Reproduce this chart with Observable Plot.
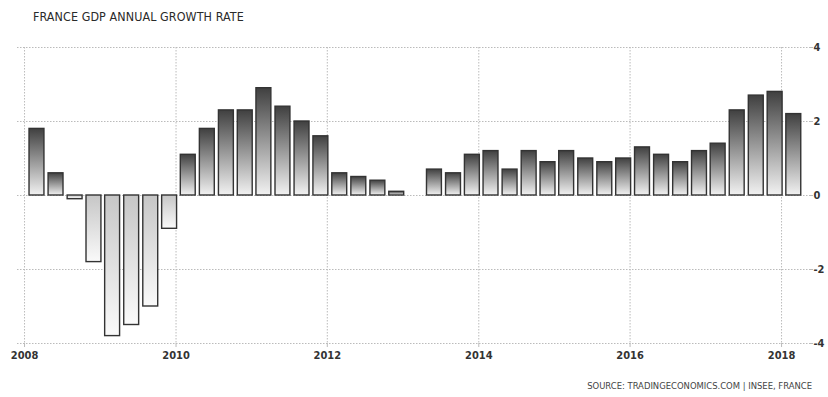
<!DOCTYPE html>
<html><head><meta charset="utf-8">
<script src="https://cdn.jsdelivr.net/npm/d3@7"></script>
<script src="https://cdn.jsdelivr.net/npm/@observablehq/plot@0.6"></script>
<style>
body{margin:0;background:#fff;width:828px;height:397px;overflow:hidden;position:relative;font-family:"DejaVu Sans Condensed","DejaVu Sans",sans-serif;}
#title{position:absolute;left:33px;top:9px;font-size:12.4px;color:#2a2a2a;letter-spacing:0.1px;}
#chart{position:absolute;left:0;top:30px;}
#source{position:absolute;right:16px;top:380px;font-size:9.4px;color:#444;}
</style></head><body>
<div id="title">FRANCE GDP ANNUAL GROWTH RATE</div>
<div id="chart"></div>
<div id="source">SOURCE: TRADINGECONOMICS.COM | INSEE, FRANCE</div>
<script>
const quarters = [
  "2008Q1","2008Q2","2008Q3","2008Q4",
  "2009Q1","2009Q2","2009Q3","2009Q4",
  "2010Q1","2010Q2","2010Q3","2010Q4",
  "2011Q1","2011Q2","2011Q3","2011Q4",
  "2012Q1","2012Q2","2012Q3","2012Q4",
  "2013Q1","2013Q2","2013Q3","2013Q4",
  "2014Q1","2014Q2","2014Q3","2014Q4",
  "2015Q1","2015Q2","2015Q3","2015Q4",
  "2016Q1","2016Q2","2016Q3","2016Q4",
  "2017Q1","2017Q2","2017Q3","2017Q4",
  "2018Q1"
];
const growth = [
  1.8, 0.6, -0.1, -1.8,
  -3.8, -3.5, -3.0, -0.9,
  1.1, 1.8, 2.3, 2.3,
  2.9, 2.4, 2.0, 1.6,
  0.6, 0.5, 0.4, 0.1,
  null, 0.7, 0.6, 1.1,
  1.2, 0.7, 1.2, 0.9,
  1.2, 1.0, 0.9, 1.0,
  1.3, 1.1, 0.9, 1.2,
  1.4, 2.3, 2.7, 2.8,
  2.2
];
const yTicks = [-4, -2, 0, 2, 4];
const xTickYears = [2008, 2010, 2012, 2014, 2016, 2018];

function qDate(q) {
  const y = +q.slice(0, 4), n = +q.slice(5);
  return new Date(Date.UTC(y, (n - 1) * 3 + 2, 1));
}
const data = quarters.map((q, i) => {
  const c = qDate(q);
  return {q, value: growth[i], x1: d3.utcDay.offset(c, -36), x2: d3.utcDay.offset(c, 36)};
}).filter(d => d.value != null);
const xTicks = xTickYears.map(y => new Date(Date.UTC(y, 0, 1)));

const chart = Plot.plot({
  width: 828,
  height: 343,
  marginLeft: 17,
  marginRight: 20,
  marginTop: 17,
  marginBottom: 30,
  style: {fontFamily: "'DejaVu Sans Condensed','DejaVu Sans',sans-serif", fontSize: "11px", color: "#333", background: "#fff"},
  x: {type: "utc", domain: [new Date(Date.UTC(2007, 10, 28)), new Date(Date.UTC(2018, 4, 11))], label: null},
  y: {domain: [-4, 4], label: null},
  marks: [
    Plot.gridY(yTicks, {stroke: "#bbb", strokeOpacity: 1, strokeDasharray: "1.5,1.5"}),
    Plot.gridX(xTicks, {stroke: "#bbb", strokeOpacity: 1, strokeDasharray: "1.5,1.5"}),
    Plot.rectY(data.filter(d => d.value >= 0), {x1: "x1", x2: "x2", y1: 0, y2: "value", fill: "url(#gradPos)", stroke: "#333", strokeWidth: 1.4}),
    Plot.rectY(data.filter(d => d.value < 0), {x1: "x1", x2: "x2", y1: 0, y2: "value", fill: "url(#gradNeg)", stroke: "#333", strokeWidth: 1.4}),
    Plot.axisX(xTicks, {label: null, tickFormat: d3.utcFormat("%Y"), tickSize: 4, tickPadding: 4, stroke: "#bbb", fill: "#333", fontWeight: "bold", fontSize: 11}),
    Plot.axisY(yTicks, {label: null, anchor: "right", tickSize: 4, tickPadding: 1, stroke: "#bbb", fill: "#333", fontWeight: "bold", fontSize: 11, tickFormat: d => d})
  ]
});
document.getElementById("chart").appendChild(chart);

const svg = d3.select(chart);
const defs = svg.insert("defs", ":first-child");
const gp = defs.append("linearGradient").attr("id", "gradPos").attr("x1", 0).attr("y1", 0).attr("x2", 0).attr("y2", 1);
gp.append("stop").attr("offset", "0%").attr("stop-color", "#404040");
gp.append("stop").attr("offset", "100%").attr("stop-color", "#f2f2f2");
const gn = defs.append("linearGradient").attr("id", "gradNeg").attr("x1", 0).attr("y1", 0).attr("x2", 0).attr("y2", 1);
gn.append("stop").attr("offset", "0%").attr("stop-color", "#c6c6c6");
gn.append("stop").attr("offset", "100%").attr("stop-color", "#fafafa");
</script>
</body></html>
